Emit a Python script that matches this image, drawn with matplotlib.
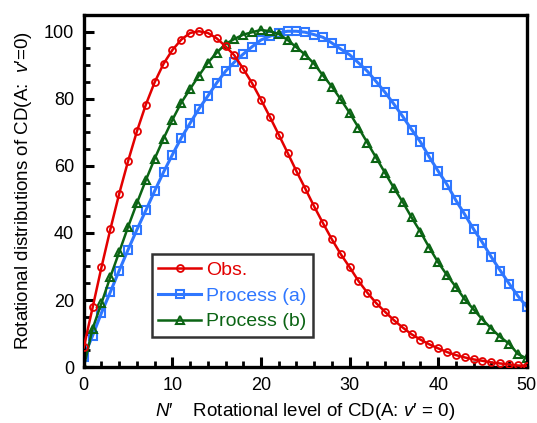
import numpy as np
import matplotlib
matplotlib.use("Agg")
import matplotlib.pyplot as plt
from matplotlib.ticker import MultipleLocator

plt.rcParams['font.family'] = ['Liberation Sans', 'DejaVu Sans']
plt.rcParams['mathtext.fontset'] = 'custom'
plt.rcParams['mathtext.it'] = 'Liberation Sans:italic'
plt.rcParams['mathtext.rm'] = 'Liberation Sans'

N = np.arange(0, 51)

obs = [5.9, 17.8, 29.8, 41.1, 51.7, 61.4, 70.3, 78.2, 84.9, 90.4,
       94.5, 97.6, 99.6, 100.1, 99.6, 98.0, 95.6, 92.9, 88.9, 84.6,
       79.7, 74.6, 69.3, 63.9, 58.4, 53.2, 47.9, 42.9, 38.1, 33.7,
       29.8, 25.7, 22.2, 19.1, 16.5, 14.0, 11.8, 9.8, 8.2, 6.8,
       5.6, 4.5, 3.6, 2.9, 2.3, 1.9, 1.4, 1.1, 0.8, 0.5, 0.4]

proc_a = [3.1, 9.4, 16.2, 22.4, 28.8, 35.0, 41.0, 46.7, 52.5, 58.1,
          63.3, 68.3, 72.7, 77.0, 80.8, 84.7, 88.2, 90.9, 93.3, 95.5,
          97.5, 98.6, 99.6, 100.1, 100.1, 99.8, 99.1, 98.3, 96.6, 94.8,
          93.1, 90.7, 88.2, 85.1, 81.9, 78.4, 74.7, 70.8, 67.1, 62.6,
          58.4, 54.4, 49.7, 45.5, 41.1, 37.1, 32.8, 28.8, 24.9, 21.2, 18.0]

proc_b = [0.0, 11.5, 19.1, 26.9, 34.3, 41.8, 48.9, 55.7, 62.1, 68.1,
          73.7, 78.8, 82.9, 86.9, 90.7, 93.7, 96.3, 97.8, 99.1, 99.8,
          100.5, 100.1, 99.3, 97.5, 95.3, 93.1, 90.4, 86.9, 83.6, 79.8,
          75.8, 71.4, 66.9, 62.4, 57.9, 53.4, 49.2, 44.6, 40.3, 35.6,
          31.2, 27.4, 23.9, 20.2, 17.2, 14.2, 11.5, 9.0, 7.0, 3.9, 2.6]

fig = plt.figure(figsize=(5.37, 4.23), dpi=100)
ax = fig.add_axes([0.156, 0.132, 0.825, 0.833])

ax.plot(N, obs, color='#e30000', lw=1.8, marker='o', ms=5, mfc='none',
        mew=1.3, label='Obs.', zorder=3)
ax.plot(N, proc_a, color='#2f77ff', lw=2.2, marker='s', ms=6, mfc='none',
        mew=1.5, label='Process (a)', zorder=2)
ax.plot(N, proc_b, color='#0b6414', lw=1.8, marker='^', ms=6, mfc='none',
        mew=1.5, label='Process (b)', zorder=2)

ax.set_xlim(0, 50)
ax.set_ylim(0, 105)
ax.xaxis.set_major_locator(MultipleLocator(10))
ax.xaxis.set_minor_locator(MultipleLocator(2))
ax.yaxis.set_major_locator(MultipleLocator(20))
ax.yaxis.set_minor_locator(MultipleLocator(5))
ax.tick_params(which='major', direction='in', length=7, width=2.2, labelsize=13, pad=7)
ax.tick_params(which='minor', direction='in', length=4, width=2.0)
for s in ax.spines.values():
    s.set_linewidth(2.4)

ax.set_xlabel(r"$\mathit{N}$′    Rotational level of CD(A: $\mathit{v}$′ = 0)",
              fontsize=13.5, labelpad=5)
ax.set_ylabel(r"Rotational distributions of CD(A:  $\mathit{v}$′=0)",
              fontsize=13.5, labelpad=7)

leg = ax.legend(loc='lower left', bbox_to_anchor=(0.153, 0.085), fontsize=14,
                frameon=True, fancybox=False, handlelength=2.2,
                handletextpad=0.25, borderpad=0.35, labelspacing=0.42,
                borderaxespad=0)
leg.get_frame().set_edgecolor('black')
leg.get_frame().set_linewidth(1.8)
for txt, line in zip(leg.get_texts(), leg.get_lines()):
    txt.set_color(line.get_color())

fig.savefig('out.png', dpi=100)
